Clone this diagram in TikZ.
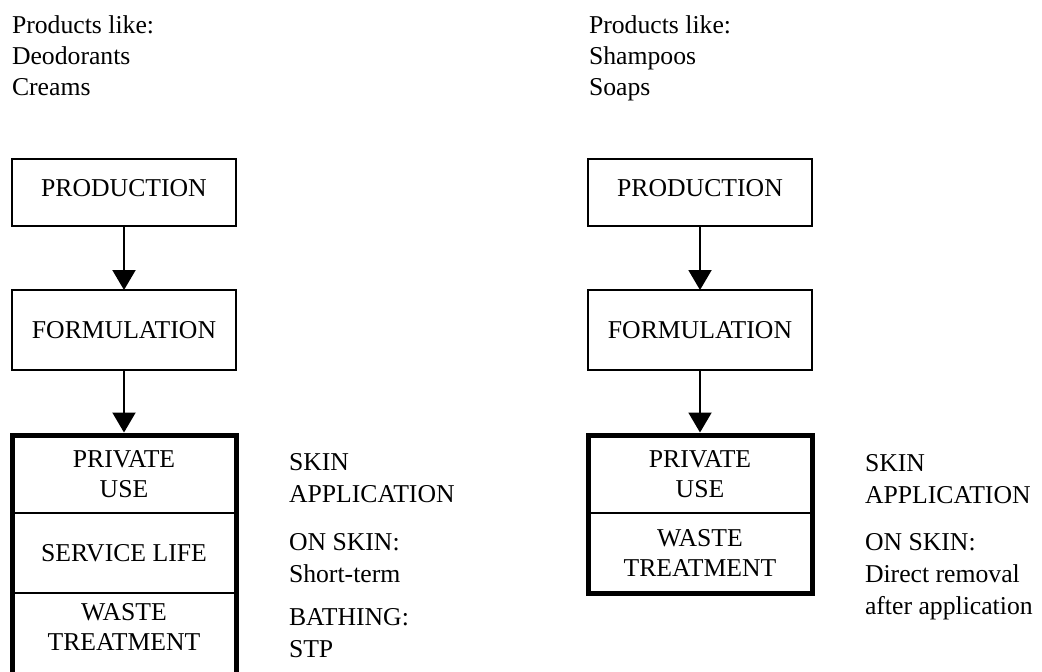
\documentclass[tikz,border=0pt]{standalone}
\usepackage{fontspec}
\setmainfont{Liberation Serif}
\usetikzlibrary{arrows.meta}
\newcommand\lns[1]{\begin{tabular}[t]{@{}l@{}}#1\end{tabular}}
\begin{document}
\begin{tikzpicture}[x=0.5pt,y=-0.5pt,
  every node/.style={inner sep=0pt, outer sep=0pt},
  txt/.style={font=\fontsize{12.85pt}{15pt}\selectfont},
  box/.style={txt, draw, line width=1pt, minimum width=112pt, minimum height=40pt, align=center},
  cell/.style={txt, minimum width=112pt, align=center},
  toplbl/.style={font=\fontsize{12.85pt}{15.5pt}\selectfont, anchor=base west},
  sidelbl/.style={font=\fontsize{12.85pt}{16pt}\selectfont, anchor=base west},
  arr/.style={line width=1pt, -{Triangle[length=10pt,width=11.5pt]}},
  frame/.style={line width=2.5pt},
  div/.style={line width=1pt}]
\path[use as bounding box] (0,0) rectangle (1042,671);
\clip (0,0) rectangle (1042,671);

% top labels
\node[toplbl] (topL) at (12,33) {\lns{Products like:\\Deodorants\\Creams}};
\node[toplbl] (topR) at (589,33) {\lns{Products like:\\Shampoos\\Soaps}};

% left column
\node[box, minimum height=33.5pt, text height=8.5pt, text depth=5pt] (prodL) at (124,192.5) {PRODUCTION};
\node[box] (formL) at (124,330) {FORMULATION};
\node[cell, minimum height=39pt] (privL) at (124,474) {PRIVATE\\USE};
\node[cell, minimum height=40pt] (servL) at (124,553) {SERVICE LIFE};
\node[cell] (wasteL) at (124,627) {WASTE\\TREATMENT};
\coordinate (botL) at (236,700);
\draw[div] (privL.south west) -- (privL.south east);
\draw[div] (servL.south west) -- (servL.south east);
\draw[frame] (privL.north west) rectangle (botL);
\draw[arr] (prodL) -- (formL);
\draw[arr, shorten >=1.25pt] (formL) -- (privL.north);

\node[sidelbl] (skinL) at (289,470) {\lns{SKIN\\APPLICATION}};
\node[sidelbl] (onskinL) at (289,550) {\lns{ON SKIN:\\Short-term}};
\node[sidelbl] (bathL) at (289,625) {\lns{BATHING:\\STP}};

% right column
\node[box, minimum height=33.5pt, text height=8.5pt, text depth=5pt] (prodR) at (700,192.5) {PRODUCTION};
\node[box] (formR) at (700,330) {FORMULATION};
\node[cell, minimum height=39pt] (privR) at (700,474) {PRIVATE\\USE};
\node[cell, minimum height=40pt] (wasteR) at (700,553) {WASTE\\TREATMENT};
\draw[div] (privR.south west) -- (privR.south east);
\draw[frame] (privR.north west) rectangle (wasteR.south east);
\draw[arr] (prodR) -- (formR);
\draw[arr, shorten >=1.25pt] (formR) -- (privR.north);

\node[sidelbl] (skinR) at (865,471) {\lns{SKIN\\APPLICATION}};
\node[sidelbl] (onskinR) at (865,550) {\lns{ON SKIN:\\Direct removal\\after application}};
\end{tikzpicture}
\end{document}
